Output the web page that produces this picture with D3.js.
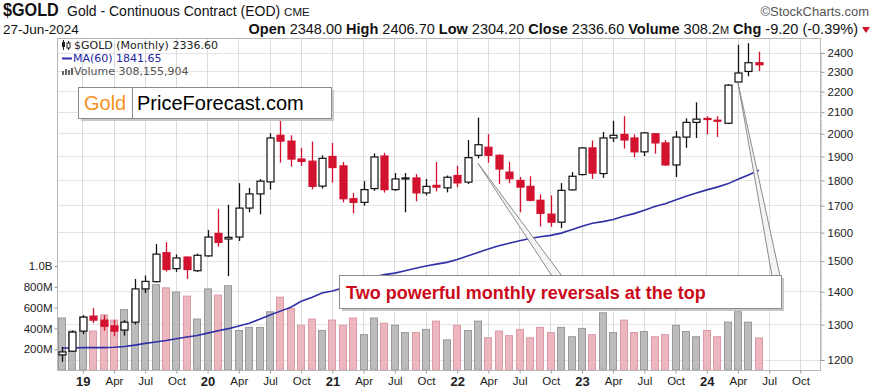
<!DOCTYPE html>
<html>
<head>
<meta charset="utf-8">
<script src="https://cdnjs.cloudflare.com/ajax/libs/d3/7.8.5/d3.min.js"></script>
<style>
  body { margin: 0; background: #fff; }
  svg { display: block; }
</style>
</head>
<body>
<div id="chart"></div>
<script>
// monthly bars, Nov 2018 .. Jun 2024
var months = ["2018-11","2018-12",
  "2019-01","2019-02","2019-03","2019-04","2019-05","2019-06","2019-07","2019-08","2019-09","2019-10","2019-11","2019-12",
  "2020-01","2020-02","2020-03","2020-04","2020-05","2020-06","2020-07","2020-08","2020-09","2020-10","2020-11","2020-12",
  "2021-01","2021-02","2021-03","2021-04","2021-05","2021-06","2021-07","2021-08","2021-09","2021-10","2021-11","2021-12",
  "2022-01","2022-02","2022-03","2022-04","2022-05","2022-06","2022-07","2022-08","2022-09","2022-10","2022-11","2022-12",
  "2023-01","2023-02","2023-03","2023-04","2023-05","2023-06","2023-07","2023-08","2023-09","2023-10","2023-11","2023-12",
  "2024-01","2024-02","2024-03","2024-04","2024-05","2024-06"];

var open = [1214,1224,
  1281,1325,1313,1296,1284,1307,1409,1432,1529,1475,1514,1468,
  1518,1597,1577,1584,1691,1746,1794,1993,1967,1889,1880,1777,
  1900,1860,1727,1713,1767,1902,1763,1808,1810,1750,1780,1770,
  1820,1793,1905,1940,1905,1834,1800,1776,1721,1668,1638,1762,
  1824,1937,1828,1981,1997,1981,1920,2000,1959,1864,1985,2052,
  2070,2062,2048,2248,2302,2348];
var high = [1236,1283,
  1328,1349,1328,1313,1313,1441,1452,1559,1566,1523,1516,1526,
  1609,1688,1704,1789,1770,1805,2002,2089,1993,1937,1965,1905,
  1959,1877,1750,1797,1913,1916,1830,1830,1826,1806,1877,1820,
  1860,1972,2074,1998,1909,1877,1814,1817,1744,1740,1789,1834,
  1941,1970,2008,2059,2081,1997,2008,2002,1972,2012,2071,2147,
  2081,2081,2236,2445,2454,2407];
var low = [1195,1222,
  1272,1304,1282,1266,1268,1300,1396,1430,1465,1464,1441,1464,
  1515,1550,1450,1570,1675,1667,1763,1874,1857,1860,1764,1767,
  1791,1713,1671,1700,1758,1751,1758,1675,1717,1740,1756,1752,
  1773,1785,1892,1873,1786,1789,1675,1717,1622,1621,1616,1760,
  1820,1806,1810,1963,1934,1896,1902,1912,1860,1814,1938,1981,
  1997,1985,2044,2248,2277,2304];
var close = [1222,1278,
  1322,1313,1295,1281,1307,1409,1433,1524,1472,1511,1472,1520,
  1584,1565,1583,1691,1746,1797,1981,1967,1889,1879,1776,1892,
  1853,1727,1713,1763,1898,1763,1806,1810,1750,1776,1773,1813,
  1790,1895,1951,1905,1847,1807,1773,1721,1671,1638,1760,1817,
  1937,1830,1981,1993,1972,1920,2004,1959,1864,1985,2052,2067,
  2067,2059,2232,2294,2348,2337];
// volume in millions of contracts
var volume = [500,375,
  510,375,530,480,580,740,770,820,790,750,710,490,
  780,720,810,380,410,410,560,700,590,430,490,380,
  480,430,500,340,500,450,430,360,360,390,470,290,
  430,380,470,310,375,330,390,310,410,360,410,320,
  400,340,550,360,480,360,370,320,340,430,370,320,
  380,320,460,560,460,308];
var ma60 = [1233,1233,
  1234,1234,1234,1235,1237,1241,1246,1250,1254,1259,1264,1268,
  1275,1282,1288,1296,1304,1316,1328,1340,1352,1370,1382,1396,
  1402,1412,1424,1436,1447,1455,1460,1468,1476,1484,1490,1496,
  1506,1518,1530,1542,1553,1562,1571,1579,1585,1590,1598,1610,
  1623,1634,1640,1648,1660,1670,1683,1697,1708,1722,1737,1750,
  1762,1773,1786,1805,1822,1842];

var priceTicks = [1200,1300,1400,1500,1600,1700,1800,1900,2000,2100,2200,2300,2400];
var volTicks = [200,400,600,800,1000];
var volTickLabels = ["200M","400M","600M","800M","1.0B"];
// quarter labels starting Jan 2019
var axisLabels = ["19","Apr","Jul","Oct","20","Apr","Jul","Oct","21","Apr","Jul","Oct",
  "22","Apr","Jul","Oct","23","Apr","Jul","Oct","24","Apr","Jul","Oct"];
var headerLabels = ["Open","High","Low","Close","Volume","Chg"];
var headerValues = ["2348.00","2406.70","2304.20","2336.60","308.2","-9.20 (-0.39%)"];

var W = 875, H = 390;
var L = 57, R = 820, T = 38, B = 370;
var red = "#d3122f";

var svg = d3.select("#chart").append("svg")
  .attr("width", W).attr("height", H)
  .style("font-family", "'Liberation Sans', Arial, sans-serif");

var x = d3.scaleLinear().domain([0, 71]).range([62, 62 + 71 * 10.4]);
var y = d3.scaleLog().domain([1200, 2400]).range([360, 53]);
var v = d3.scaleLinear().domain([0, 1000]).range([B, B - 104]);

var qIdx = axisLabels.map(function(d, i) { return 2 + 3 * i; });

// header
svg.append("g").attr("transform", "translate(3,16) scale(0.9,1)")
  .append("text").style("font-size", "18px").style("font-weight", "bold").attr("fill", "#111")
  .text("$GOLD");
var t1 = svg.append("text").attr("x", 67).attr("y", 16).style("font-size", "14px").attr("fill", "#111");
t1.append("tspan").text("Gold - Continuous Contract (EOD) ");
t1.append("tspan").style("font-size", "11.5px").text("CME");
svg.append("text").attr("x", 869).attr("y", 16).attr("text-anchor", "end")
  .style("font-size", "13px").attr("fill", "#555").text("\u00a9StockCharts.com");
svg.append("text").attr("x", 3).attr("y", 34).style("font-size", "13.5px").attr("fill", "#111")
  .text("27-Jun-2024");

var t2 = svg.append("text").attr("x", 858).attr("y", 34).attr("text-anchor", "end")
  .style("font-size", "14.5px").attr("fill", "#111");
headerLabels.forEach(function(lab, i) {
  t2.append("tspan").style("font-weight", "bold").text((i ? " " : "") + lab + " ");
  t2.append("tspan").text(headerValues[i]);
  if (lab === "Volume") t2.append("tspan").style("font-size", "11px").text("M");
});
svg.append("path").attr("d", "M862,27 L870,27 L866,33 Z").attr("fill", red);

// grid
var grid = svg.append("g").attr("stroke", "#e4e4e4").attr("shape-rendering", "crispEdges");
grid.selectAll(".h").data(priceTicks).join("line").attr("class", "h")
  .attr("x1", L).attr("x2", R)
  .attr("y1", function(d) { return y(d); }).attr("y2", function(d) { return y(d); });
grid.selectAll(".v").data(qIdx).join("line").attr("class", "v")
  .attr("stroke", "#dcdcdc")
  .attr("x1", function(d) { return x(d); }).attr("x2", function(d) { return x(d); })
  .attr("y1", T).attr("y2", B);

// volume bars
svg.append("g").selectAll("rect").data(volume).join("rect")
  .attr("x", function(d, i) { return Math.round(x(i)) - 3.5; })
  .attr("width", 7)
  .attr("y", function(d) { return v(d); })
  .attr("height", function(d) { return B - v(d); })
  .attr("fill", function(d, i) { return close[i] < open[i] ? "#ecb7bf" : "#bcbcbc"; })
  .attr("stroke", function(d, i) { return close[i] < open[i] ? "#dc9aa5" : "#9a9a9a"; })
  .attr("stroke-width", 1);

// MA(60)
svg.append("path").datum(ma60)
  .attr("fill", "none").attr("stroke", "#2f2fa6").attr("stroke-width", 1.6)
  .attr("d", d3.line().x(function(d, i) { return x(i); }).y(function(d) { return y(d); }));

// candles
var c = svg.append("g").selectAll("g").data(months).join("g");
c.append("line")
  .attr("x1", function(d, i) { return Math.round(x(i)) + 0.5; })
  .attr("x2", function(d, i) { return Math.round(x(i)) + 0.5; })
  .attr("y1", function(d, i) { return y(high[i]); })
  .attr("y2", function(d, i) { return y(low[i]); })
  .attr("stroke", function(d, i) { return close[i] < open[i] ? red : "#111"; })
  .attr("stroke-width", 1.3);
c.append("rect")
  .attr("x", function(d, i) { return Math.round(x(i)) - 3; })
  .attr("width", 7)
  .attr("y", function(d, i) { return y(Math.max(open[i], close[i])); })
  .attr("height", function(d, i) {
    return Math.max(1, y(Math.min(open[i], close[i])) - y(Math.max(open[i], close[i])));
  })
  .attr("fill", function(d, i) { return close[i] < open[i] ? red : "#fff"; })
  .attr("stroke", function(d, i) { return close[i] < open[i] ? red : "#111"; })
  .attr("stroke-width", 1.2);

// frame
svg.append("rect").attr("x", L + 0.5).attr("y", T + 0.5)
  .attr("width", R - L).attr("height", B - T)
  .attr("fill", "none").attr("stroke", "#b8b8b8");

// right price axis
var ay = svg.append("g").attr("transform", "translate(" + (R + 0.5) + ",0)")
  .call(d3.axisRight(y).tickValues(priceTicks).tickFormat(d3.format("d")).tickSize(4).tickPadding(3));
svg.append("g").selectAll("line").data(d3.range(1220, 2420, 20)).join("line")
  .attr("x1", R).attr("x2", R + 2)
  .attr("y1", function(d) { return y(d); }).attr("y2", function(d) { return y(d); })
  .attr("stroke", "#bbb");
ay.select(".domain").attr("stroke", "#b8b8b8");
ay.selectAll("line").attr("stroke", "#999");
ay.selectAll("text").style("font-size", "11.5px").attr("fill", "#222");

// left volume axis
var av = svg.append("g").attr("transform", "translate(" + (L + 0.5) + ",0)")
  .call(d3.axisLeft(v).tickValues(volTicks)
    .tickFormat(function(d, i) { return volTickLabels[i]; }).tickSize(3).tickPadding(2));
av.select(".domain").remove();
av.selectAll("line").attr("stroke", "#999");
av.selectAll("text").style("font-size", "11.5px").attr("fill", "#222");

// bottom axis
var ax = svg.append("g").attr("transform", "translate(0," + (B + 0.5) + ")")
  .call(d3.axisBottom(x).tickValues(qIdx)
    .tickFormat(function(d, i) { return axisLabels[i]; }).tickSize(3).tickPadding(3));
ax.select(".domain").remove();
ax.selectAll("line").attr("stroke", "#999");
ax.selectAll("text").attr("fill", "#222")
  .style("font-weight", function(d, i) { return /^\d/.test(axisLabels[i]) ? "bold" : "normal"; })
  .style("font-size", function(d, i) { return /^\d/.test(axisLabels[i]) ? "13px" : "11.5px"; });

// legend
var lg = svg.append("g").style("font-family", "'DejaVu Sans', Verdana, sans-serif").style("font-size", "11px");
lg.append("line").attr("x1", 63.5).attr("x2", 63.5).attr("y1", 40).attr("y2", 50).attr("stroke", "#222");
lg.append("rect").attr("x", 62).attr("y", 42).attr("width", 3).attr("height", 5).attr("fill", "#222");
lg.append("line").attr("x1", 68.5).attr("x2", 68.5).attr("y1", 41).attr("y2", 50).attr("stroke", "#222");
lg.append("rect").attr("x", 67).attr("y", 43).attr("width", 3).attr("height", 5).attr("fill", "#fff").attr("stroke", "#222");
lg.append("text").attr("x", 74).attr("y", 49).attr("fill", "#222").text("$GOLD (Monthly) 2336.60");
lg.append("line").attr("x1", 62).attr("x2", 72).attr("y1", 58.5).attr("y2", 58.5).attr("stroke", "#2f2fa6").attr("stroke-width", 2);
lg.append("text").attr("x", 73).attr("y", 62).attr("fill", "#2424a0").text("MA(60) 1841.65");
[4, 6, 5, 7].forEach(function(hh, k) {
  lg.append("rect").attr("x", 62 + k * 3).attr("y", 75 - hh).attr("width", 2).attr("height", hh).attr("fill", "#666");
});
lg.append("text").attr("x", 74).attr("y", 75).attr("fill", "#555").text("Volume 308,155,904");

// GoldPriceForecast.com label
var gp = svg.append("g");
gp.append("rect").attr("x", 81).attr("y", 90).attr("width", 253).attr("height", 31).attr("fill", "#c8c8c8");
gp.append("rect").attr("x", 78.5).attr("y", 87.5).attr("width", 253).attr("height", 31)
  .attr("fill", "#fff").attr("stroke", "#8a8a8a");
gp.append("line").attr("x1", 132.5).attr("x2", 132.5).attr("y1", 87.5).attr("y2", 118.5).attr("stroke", "#8a8a8a");
gp.append("text").attr("x", 84).attr("y", 110).attr("fill", "#f7931e").style("font-size", "20px").text("Gold");
gp.append("text").attr("x", 137).attr("y", 110).attr("fill", "#000").style("font-size", "20px").text("PriceForecast.com");

// callout pointers and box
function wedge(tip, b1, b2) {
  svg.append("path").attr("d", "M" + tip + "L" + b1 + "L" + b2 + "Z")
    .attr("fill", "#f4f4f4").attr("stroke", "#8c8c8c").attr("stroke-width", 1);
}
wedge([x(40), y(low[40]) + 5], [552, 276], [562, 276]);
wedge([x(65), y(low[65]) + 1], [772, 276], [780, 276]);
svg.append("rect").attr("x", 342).attr("y", 278).attr("width", 442).attr("height", 33).attr("fill", "#c8c8c8");
svg.append("rect").attr("x", 339.5).attr("y", 275.5).attr("width", 442).attr("height", 33)
  .attr("fill", "#fff").attr("stroke", "#8c8c8c");
svg.append("text").attr("x", 346).attr("y", 299).attr("fill", "#cc0a1a")
  .style("font-size", "18px").style("font-weight", "bold")
  .text("Two powerful monthly reversals at the top");
</script>
</body>
</html>
